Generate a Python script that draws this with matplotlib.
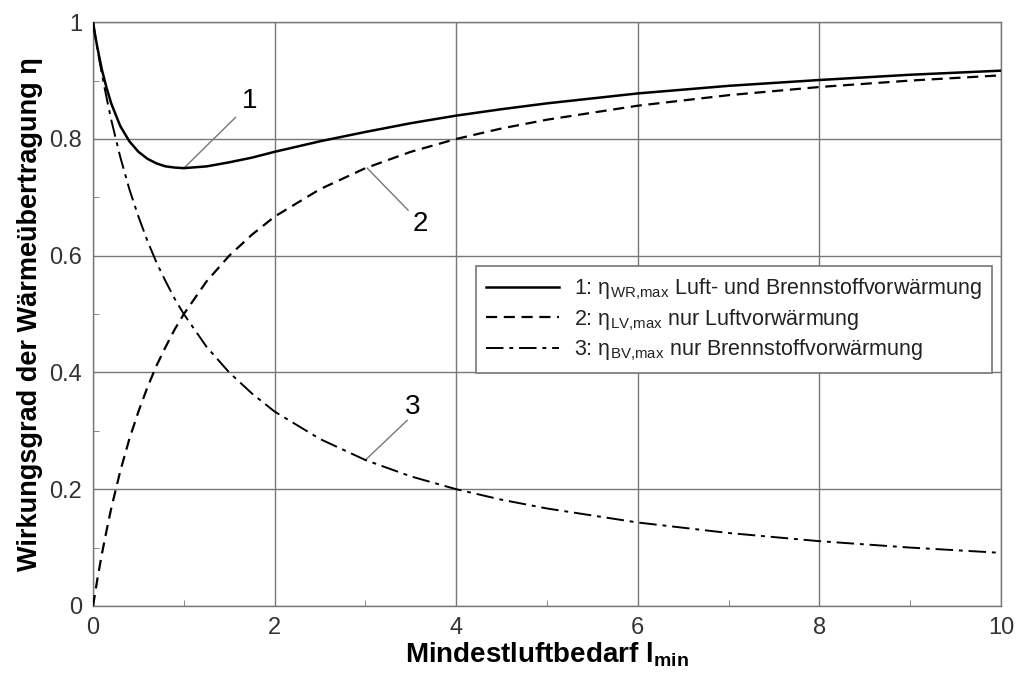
import matplotlib
matplotlib.use("Agg")
import matplotlib.pyplot as plt
from matplotlib.ticker import MultipleLocator

plt.rcParams["font.family"] = ["Liberation Sans", "DejaVu Sans"]
plt.rcParams["mathtext.fontset"] = "custom"
plt.rcParams["mathtext.rm"] = "Liberation Sans"
plt.rcParams["mathtext.it"] = "Liberation Sans:italic"
plt.rcParams["mathtext.bf"] = "Liberation Sans:bold"

# Mindestluftbedarf l_min
l_min = [0.0, 0.025, 0.05, 0.1, 0.15, 0.2, 0.3, 0.4, 0.5, 0.6, 0.7, 0.8, 0.9, 1.0,
         1.25, 1.5, 1.75, 2.0, 2.5, 3.0, 3.5, 4.0, 4.5, 5.0, 6.0, 7.0, 8.0, 9.0, 10.0]
# 1: Luft- und Brennstoffvorwaermung
eta_wr = [1.0, 0.976, 0.955, 0.917, 0.887, 0.861, 0.822, 0.796, 0.778, 0.766, 0.758,
          0.753, 0.751, 0.750, 0.753, 0.760, 0.768, 0.778, 0.796, 0.812, 0.827, 0.840,
          0.851, 0.861, 0.878, 0.891, 0.901, 0.910, 0.917]
# 2: nur Luftvorwaermung
eta_lv = [0.0, 0.024, 0.048, 0.091, 0.130, 0.167, 0.231, 0.286, 0.333, 0.375, 0.412,
          0.444, 0.474, 0.500, 0.556, 0.600, 0.636, 0.667, 0.714, 0.750, 0.778, 0.800,
          0.818, 0.833, 0.857, 0.875, 0.889, 0.900, 0.909]
# 3: nur Brennstoffvorwaermung
eta_bv = [1.0, 0.976, 0.952, 0.909, 0.870, 0.833, 0.769, 0.714, 0.667, 0.625, 0.588,
          0.556, 0.526, 0.500, 0.444, 0.400, 0.364, 0.333, 0.286, 0.250, 0.222, 0.200,
          0.182, 0.167, 0.143, 0.125, 0.111, 0.100, 0.091]

labels = [
    r"1: η$_{\mathrm{WR{,}max}}$ Luft- und Brennstoffvorwärmung",
    r"2: η$_{\mathrm{LV{,}max}}$ nur Luftvorwärmung",
    r"3: η$_{\mathrm{BV{,}max}}$ nur Brennstoffvorwärmung",
]
xticks = [0, 2, 4, 6, 8, 10]
yticks = [0, 0.2, 0.4, 0.6, 0.8, 1.0]
yticklabels = ["0", "0.2", "0.4", "0.6", "0.8", "1"]

fig = plt.figure(figsize=(10.19, 6.73), dpi=100)
ax = fig.add_axes([0.0913, 0.0996, 0.891, 0.8674])

grey = "#777777"
ax.plot(l_min, eta_wr, color="black", lw=1.8, label=labels[0], zorder=3)
ax.plot(l_min, eta_lv, color="black", lw=1.6, dashes=(5, 3), label=labels[1], zorder=3)
ax.plot(l_min, eta_bv, color="black", lw=1.4, dashes=(9, 3, 2, 3), label=labels[2], zorder=3)

ax.set_xlim(0, 10)
ax.set_ylim(0, 1)
ax.set_xticks(xticks)
ax.set_xticklabels([str(t) for t in xticks])
ax.set_yticks(yticks)
ax.set_yticklabels(yticklabels)
ax.xaxis.set_minor_locator(MultipleLocator(1))
ax.yaxis.set_minor_locator(MultipleLocator(0.1))
ax.grid(True, which="major", color=grey, lw=1.0)
ax.tick_params(which="both", direction="in", colors=grey, labelcolor="#333333",
               labelsize=17, length=4)
ax.tick_params(which="major", length=0, pad=8)
for s in ax.spines.values():
    s.set_color(grey)
    s.set_linewidth(1.0)

ax.set_xlabel(r"Mindestluftbedarf l$_{\mathbf{min}}$", fontsize=20, fontweight="bold",
              labelpad=1)
ax.set_ylabel("Wirkungsgrad der Wärmeübertragung η", fontsize=19.5, fontweight="bold",
              labelpad=4)

# leader lines to curve numbers
ax.plot([1.0, 1.57], [0.75, 0.837], color=grey, lw=1.0, zorder=2)
ax.text(1.73, 0.865, "1", fontsize=20, ha="center", va="center")
ax.plot([3.02, 3.47], [0.75, 0.678], color=grey, lw=1.0, zorder=2)
ax.text(3.6, 0.655, "2", fontsize=20, ha="center", va="center")
ax.plot([3.0, 3.46], [0.25, 0.318], color=grey, lw=1.0, zorder=2)
ax.text(3.52, 0.34, "3", fontsize=20, ha="center", va="center")

leg = ax.legend(loc="upper left", bbox_to_anchor=(0.41, 0.6), fontsize=15.5,
                frameon=True, fancybox=False, edgecolor=grey, framealpha=1,
                handlelength=3.4, borderpad=0.45, labelspacing=0.25, handletextpad=0.7)
leg.get_frame().set_linewidth(1.2)
for t in leg.get_texts():
    t.set_color("#222222")

fig.savefig("out.png", dpi=100)
